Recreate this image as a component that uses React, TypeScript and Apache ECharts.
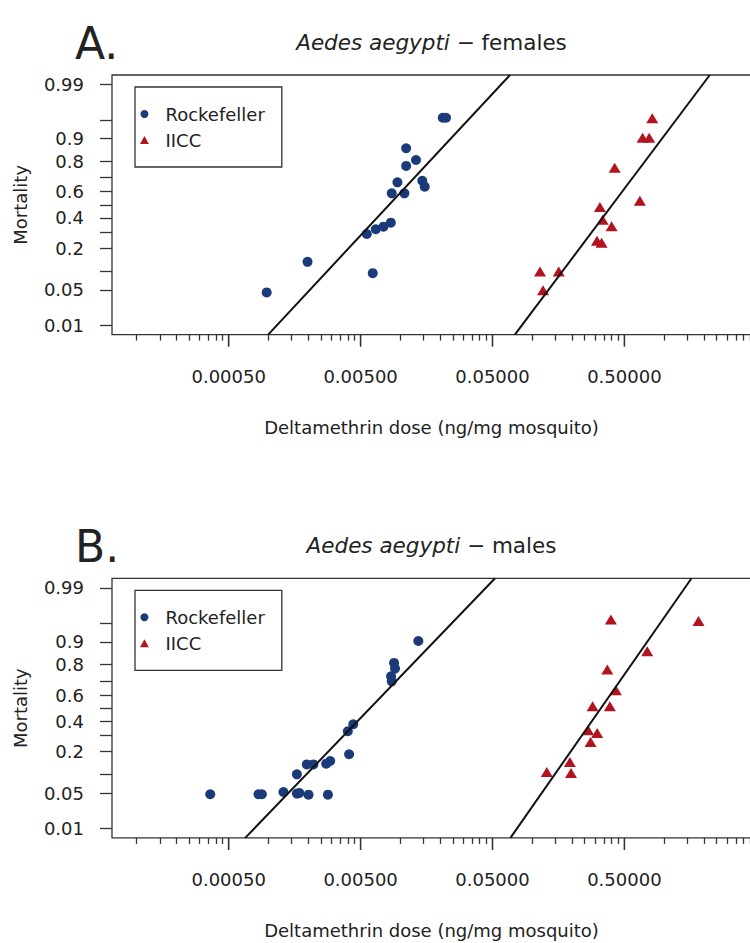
import React, { useEffect, useRef } from 'react';
import * as echarts from 'echarts';

// ---------- data (dose in ng/mg, mortality as proportion) ----------
const femRockDose = [0.00097, 0.00198, 0.00557, 0.00652, 0.00745, 0.00847, 0.00618, 0.00861, 0.01074, 0.00951, 0.01107, 0.01107, 0.01315, 0.01468, 0.01531, 0.021, 0.0222];
const femRockMort = [0.045, 0.135, 0.286, 0.318, 0.336, 0.365, 0.093, 0.588, 0.588, 0.668, 0.774, 0.863, 0.807, 0.679, 0.637, 0.954, 0.954];

const femIiccDose = [0.813, 0.687, 0.771, 0.422, 0.655, 0.326, 0.342, 0.4, 0.31, 0.336, 0.1146, 0.1589, 0.1208];
const femIiccMort = [0.953, 0.903, 0.903, 0.763, 0.532, 0.483, 0.387, 0.339, 0.243, 0.232, 0.098, 0.098, 0.049];

const maleRockDose = [0.000362, 0.000841, 0.000892, 0.0013, 0.001644, 0.001718, 0.002014, 0.002826, 0.001644, 0.001954, 0.002193, 0.002743, 0.002939, 0.00409, 0.004, 0.0044, 0.00851, 0.00861, 0.00897, 0.00912, 0.0137];
const maleRockMort = [0.0477, 0.0477, 0.0477, 0.0522, 0.049, 0.0502, 0.047, 0.047, 0.1, 0.138, 0.138, 0.141, 0.153, 0.186, 0.327, 0.377, 0.731, 0.698, 0.809, 0.778, 0.903];

const maleIiccDose = [0.395, 1.824, 0.745, 0.371, 0.431, 0.287, 0.388, 0.266, 0.311, 0.277, 0.193, 0.197, 0.129];
const maleIiccMort = [0.957, 0.954, 0.864, 0.772, 0.635, 0.514, 0.514, 0.334, 0.315, 0.256, 0.148, 0.1046, 0.108];

// probit fit lines: [dose, mortality] at the plot edges
const femRockFit = [[0.000996, 0.006], [0.0679, 0.994]];
const femIiccFit = [[0.0739, 0.006], [2.22, 0.994]];
const maleRockFit = [[0.000667, 0.006], [0.0523, 0.994]];
const maleIiccFit = [[0.0684, 0.006], [1.615, 0.994]];

// axis ticks
const majorTickDoses = [0.0005, 0.005, 0.05, 0.5];
const decadeStarts = [0.00005, 0.0005, 0.005, 0.05, 0.5];
const minorMultipliers = [2, 3, 4, 5, 6, 7, 8, 9];
const mortalityTicks = [0.01, 0.05, 0.1, 0.2, 0.3, 0.4, 0.5, 0.6, 0.7, 0.8, 0.9, 0.95, 0.99];
const mortalityLabels = [0.01, 0.05, 0.2, 0.4, 0.6, 0.8, 0.9, 0.99];

const panelTitles = ['females', 'males'];
const panelLetters = ['A.', 'B.'];
const seriesNames = ['Rockefeller', 'IICC'];
const xTitle = 'Deltamethrin dose (ng/mg mosquito)';
const yTitle = 'Mortality';

// ---------- helpers ----------
function qnorm(p: number): number {
  const a = [-3.969683028665376e1, 2.209460984245205e2, -2.759285104469687e2, 1.38357751867269e2, -3.066479806614716e1, 2.506628277459239];
  const b = [-5.447609879822406e1, 1.615858368580409e2, -1.556989798598866e2, 6.680131188771972e1, -1.328068155288572e1];
  const c = [-7.784894002430293e-3, -3.223964580411365e-1, -2.400758277161838, -2.549732539343734, 4.374664141464968, 2.938163982698783];
  const d = [7.784695709041462e-3, 3.224671290700398e-1, 2.445134137142996, 3.754408661907416];
  const pl = 0.02425;
  if (p < pl) {
    const q = Math.sqrt(-2 * Math.log(p));
    return (((((c[0] * q + c[1]) * q + c[2]) * q + c[3]) * q + c[4]) * q + c[5]) / ((((d[0] * q + d[1]) * q + d[2]) * q + d[3]) * q + 1);
  }
  if (p > 1 - pl) {
    const q = Math.sqrt(-2 * Math.log(1 - p));
    return -(((((c[0] * q + c[1]) * q + c[2]) * q + c[3]) * q + c[4]) * q + c[5]) / ((((d[0] * q + d[1]) * q + d[2]) * q + d[3]) * q + 1);
  }
  const q = p - 0.5;
  const r = q * q;
  return ((((((a[0] * r + a[1]) * r + a[2]) * r + a[3]) * r + a[4]) * r + a[5]) * q) / (((((b[0] * r + b[1]) * r + b[2]) * r + b[3]) * r + b[4]) * r + 1);
}

const FONT = 'DejaVu Sans';
const TXT = '#222';
const AX = '#333';
const BLUE = '#1b3a7a';
const RED = '#b3121f';

const X_MIN = -4.186;
const X_MAX = 0.659;
const Y_LIM = 2.512;
// y axis unit: probit shifted so that the bottom of the plot is 0
const yv = (m: number) => qnorm(m) + Y_LIM;
const toPts = (dose: number[], mort: number[]) => dose.map((x, i) => [Math.log10(x), yv(mort[i])]);
const fitPts = (f: number[][]) => f.map(([x, m]) => [Math.log10(x), yv(m)]);

function buildOption() {
  const grids = [
    { left: 112, top: 75, width: 639, height: 259.6 },
    { left: 112, top: 578.3, width: 639, height: 259.6 },
  ];
  const pxPerY = grids[0].height / (2 * Y_LIM);
  const majorLog = majorTickDoses.map((d) => Math.log10(d));
  const minorLog: number[] = [];
  decadeStarts.forEach((d) => minorMultipliers.forEach((k) => {
    const v = Math.log10(d * k);
    if (v > X_MIN && v < X_MAX) minorLog.push(v);
  }));
  const yTickV = mortalityTicks.map(yv);
  const yLabelV = mortalityLabels.map(yv);
  const yFmt = (v: number) => {
    let best = 0;
    for (let i = 1; i < yLabelV.length; i++) if (Math.abs(yLabelV[i] - v) < Math.abs(yLabelV[best] - v)) best = i;
    return String(mortalityLabels[best]);
  };
  const textBase = { fontFamily: FONT, fontSize: 18, color: TXT };

  const xAxis: any[] = [];
  const yAxis: any[] = [];
  grids.forEach((_, i) => {
    xAxis.push({
      type: 'value', gridIndex: i, min: X_MIN, max: X_MAX, position: 'bottom',
      axisLine: { show: false, onZero: true }, splitLine: { show: false },
      axisTick: { show: true, customValues: majorLog, length: 12, lineStyle: { color: AX, width: 1.3 } },
      axisLabel: { show: true, customValues: majorLog, formatter: (v: number) => Math.pow(10, v).toFixed(5), margin: 33, ...textBase },
      name: xTitle, nameLocation: 'middle', nameGap: 84, nameTextStyle: textBase,
    });
    yAxis.push({
      type: 'value', gridIndex: i, min: 0, max: 2 * Y_LIM, position: 'left',
      axisLine: { show: false, onZero: false }, splitLine: { show: false },
      axisTick: { show: true, customValues: yTickV, length: 12, lineStyle: { color: AX, width: 1.3 } },
      axisLabel: { show: true, customValues: yLabelV, formatter: yFmt, margin: 28, ...textBase },
      name: yTitle, nameLocation: 'middle', nameGap: 83, nameRotate: 90, nameTextStyle: textBase,
    });
  });
  // overlay axes (grid 2, 3) carrying the short log ticks
  grids.forEach((_, i) => {
    xAxis.push({
      type: 'value', gridIndex: 2 + i, min: X_MIN, max: X_MAX, position: 'bottom',
      axisLine: { show: false, onZero: false }, splitLine: { show: false },
      axisTick: { show: true, customValues: minorLog, length: 6, lineStyle: { color: AX, width: 1.3 } },
      axisLabel: { show: false },
    });
    yAxis.push({
      type: 'value', gridIndex: 2 + i, min: 0, max: 2 * Y_LIM, show: false,
      axisLine: { show: false, onZero: false }, splitLine: { show: false },
    });
  });

  const panels = [
    { rock: toPts(femRockDose, femRockMort), iicc: toPts(femIiccDose, femIiccMort), fits: [fitPts(femRockFit), fitPts(femIiccFit)] },
    { rock: toPts(maleRockDose, maleRockMort), iicc: toPts(maleIiccDose, maleIiccMort), fits: [fitPts(maleRockFit), fitPts(maleIiccFit)] },
  ];
  const tickDrop = -12 / pxPerY;
  const series: any[] = [];
  panels.forEach((p, i) => {
    series.push({
      type: 'scatter', name: seriesNames[0], xAxisIndex: i, yAxisIndex: i, data: p.rock,
      symbol: 'circle', symbolSize: 10, itemStyle: { color: BLUE, opacity: 1 }, z: 2,
    });
    series.push({
      type: 'scatter', name: seriesNames[1], xAxisIndex: i, yAxisIndex: i, data: p.iicc,
      symbol: 'triangle', symbolSize: [12, 10], itemStyle: { color: RED, opacity: 1 }, z: 2,
    });
    p.fits.forEach((f) => series.push({
      type: 'line', xAxisIndex: i, yAxisIndex: i, data: f, showSymbol: false, symbol: 'none',
      lineStyle: { color: '#111', width: 2 }, clip: true, silent: true, z: 3,
    }));
    // long decade tick marks under the plot (drawn through the axis scales)
    const seg: any[] = [];
    majorLog.forEach((v) => { seg.push([v, 0], [v, tickDrop], '-'); });
    series.push({
      type: 'line', xAxisIndex: i, yAxisIndex: i, data: seg, showSymbol: false, symbol: 'none',
      connectNulls: false, clip: false, silent: true, z: 1,
      lineStyle: { color: AX, width: 1.3 },
    });
  });

  const legend = grids.map((g) => ({
    data: [{ name: seriesNames[0], icon: 'circle' }, { name: seriesNames[1], icon: 'path://M0,9L5,0L10,9Z' }],
    orient: 'vertical', left: 135, top: g.top + 12,
    itemWidth: 32, itemHeight: 8, itemGap: 6, symbolKeepAspect: true,
    padding: [17, 17, 17, 5], borderColor: AX, borderWidth: 1.3, backgroundColor: '#fff',
    textStyle: { fontFamily: FONT, fontSize: 18, color: TXT, lineHeight: 20 },
    selectedMode: false,
  }));

  const graphic: any[] = [];
  grids.forEach((g, i) => {
    graphic.push({
      type: 'text', x: g.left + g.width / 2, y: g.top - 22,
      style: {
        text: '{i|Aedes aegypti} − ' + panelTitles[i],
        rich: { i: { fontStyle: 'italic', fontFamily: FONT, fontSize: 21.5, fill: TXT } },
        fontFamily: FONT, fontSize: 21.5, fill: TXT, align: 'center', verticalAlign: 'bottom',
      },
    });
    graphic.push({
      type: 'text', x: 75, y: g.top - 10,
      style: { text: panelLetters[i], fontFamily: FONT, fontSize: 44, fill: TXT, align: 'left', verticalAlign: 'bottom' },
    });
  });

  const gridOpts = [
    ...grids.map((g) => ({ ...g, show: true, borderColor: AX, borderWidth: 1.3, backgroundColor: 'transparent' })),
    ...grids.map((g) => ({ ...g, show: false })),
  ];

  return {
    animation: false,
    backgroundColor: '#fff',
    grid: gridOpts,
    xAxis, yAxis, series, legend, graphic,
  };
}

export default function App() {
  const ref = useRef<HTMLDivElement>(null);
  useEffect(() => {
    const chart = echarts.init(ref.current as HTMLDivElement, null, { renderer: 'svg' });
    chart.setOption(buildOption() as any);
    return () => chart.dispose();
  }, []);
  return (
    <div style={{ position: 'absolute', left: 0, top: 0, width: 750, height: 943, overflow: 'hidden', background: '#fff' }}>
      <div ref={ref} style={{ width: 754, height: 943 }} />
    </div>
  );
}
